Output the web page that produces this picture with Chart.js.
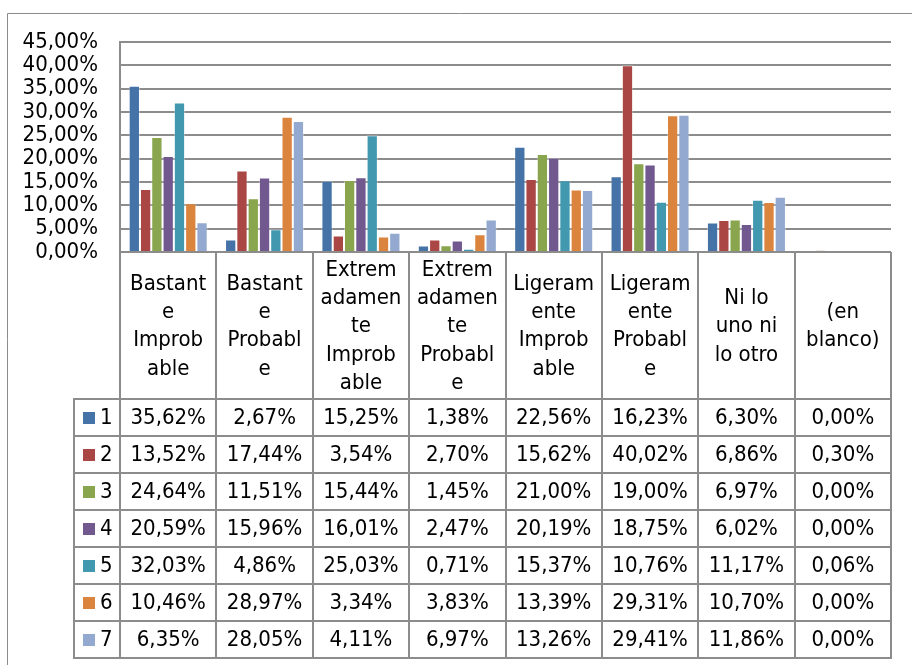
<!DOCTYPE html>
<html>
<head>
<meta charset="utf-8">
<script src="https://cdn.jsdelivr.net/npm/chart.js@4/dist/chart.umd.min.js"></script>
<style>
  html, body { margin: 0; padding: 0; background: #ffffff; }
  #wrap { width: 912px; height: 665px; position: relative; }
</style>
</head>
<body>
<div id="wrap"><canvas id="c" width="912" height="665"></canvas></div>
<script>
// Categories (answers) and their wrapped header lines in the data table
const categories = [
  "Bastante Improbable", "Bastante Probable", "Extremadamente Improbable",
  "Extremadamente Probable", "Ligeramente Improbable", "Ligeramente Probable",
  "Ni lo uno ni lo otro", "(en blanco)"
];
const headerLines = [
  ["Bastant", "e", "Improb", "able"],
  ["Bastant", "e", "Probabl", "e"],
  ["Extrem", "adamen", "te", "Improb", "able"],
  ["Extrem", "adamen", "te", "Probabl", "e"],
  ["Ligeram", "ente", "Improb", "able"],
  ["Ligeram", "ente", "Probabl", "e"],
  ["Ni lo", "uno ni", "lo otro"],
  ["(en", "blanco)"]
];

// Series names and values (percent)
const seriesNames = ["1", "2", "3", "4", "5", "6", "7"];
const serie1 = [35.62, 2.67, 15.25, 1.38, 22.56, 16.23, 6.30, 0.00];
const serie2 = [13.52, 17.44, 3.54, 2.70, 15.62, 40.02, 6.86, 0.30];
const serie3 = [24.64, 11.51, 15.44, 1.45, 21.00, 19.00, 6.97, 0.00];
const serie4 = [20.59, 15.96, 16.01, 2.47, 20.19, 18.75, 6.02, 0.00];
const serie5 = [32.03, 4.86, 25.03, 0.71, 15.37, 10.76, 11.17, 0.06];
const serie6 = [10.46, 28.97, 3.34, 3.83, 13.39, 29.31, 10.70, 0.00];
const serie7 = [6.35, 28.05, 4.11, 6.97, 13.26, 29.41, 11.86, 0.00];
const seriesValues = [serie1, serie2, serie3, serie4, serie5, serie6, serie7];

// Value axis ticks
const yMin = 0, yMax = 45, yStep = 5;

const seriesColors = ["#4572A7", "#AA4643", "#89A54E", "#71588F", "#4198AF", "#DB843D", "#93A9CF"];

const FONT = "'DejaVu Sans Condensed', 'DejaVu Sans', sans-serif";
const FONT_SIZE = 22;
const LINE_COLOR = "#8c8c8c";

const fmtPct = v => v.toFixed(2).replace(".", ",") + "%";

// Outer frame and white background
const framePlugin = {
  id: "frame",
  beforeDraw(chart) {
    const ctx = chart.ctx;
    ctx.save();
    ctx.fillStyle = "#ffffff";
    ctx.fillRect(0, 0, chart.width, chart.height);
    ctx.strokeStyle = "#8b8b8b";
    ctx.lineWidth = 1;
    ctx.beginPath();
    ctx.moveTo(7.5, chart.height + 2);
    ctx.lineTo(7.5, 13.5);
    ctx.lineTo(chart.width + 2, 13.5);
    ctx.stroke();
    ctx.restore();
  }
};

// Data table under the plot, aligned on the category scale
const tablePlugin = {
  id: "dataTable",
  afterDraw(chart) {
    const ctx = chart.ctx;
    const xs = chart.scales.x;
    const area = chart.chartArea;
    const n = categories.length;
    const colW = (area.right - area.left) / n;
    const top = area.bottom;
    const headerH = 147;
    const rowH = 37;
    const legendLeft = 74;
    const dataTop = top + headerH;
    const bottom = dataTop + rowH * seriesNames.length;

    ctx.save();
    ctx.strokeStyle = LINE_COLOR;
    ctx.lineWidth = 2;

    // vertical lines
    for (let i = 0; i <= n; i++) {
      const x = Math.round(area.left + i * colW);
      ctx.beginPath();
      ctx.moveTo(x, top);
      ctx.lineTo(x, bottom);
      ctx.stroke();
    }
    ctx.beginPath();
    ctx.moveTo(legendLeft, dataTop);
    ctx.lineTo(legendLeft, bottom);
    ctx.stroke();

    // horizontal lines
    ctx.beginPath();
    ctx.moveTo(area.left, top);
    ctx.lineTo(area.right, top);
    ctx.stroke();
    for (let r = 0; r <= seriesNames.length; r++) {
      const y = Math.round(dataTop + r * rowH);
      ctx.beginPath();
      ctx.moveTo(legendLeft - 1, y);
      ctx.lineTo(area.right + 1, y);
      ctx.stroke();
    }

    ctx.fillStyle = "#000000";
    ctx.font = FONT_SIZE + "px " + FONT;
    ctx.textAlign = "center";
    ctx.textBaseline = "middle";

    // header: category names
    const lineH = 28.3;
    const headMid = top + headerH / 2;
    for (let i = 0; i < n; i++) {
      const cx = xs.getPixelForValue(i);
      const lines = headerLines[i];
      const y0 = headMid - (lines.length - 1) * lineH / 2;
      lines.forEach((t, k) => ctx.fillText(t, cx, y0 + k * lineH + 1));
    }

    // rows: legend key + values
    for (let s = 0; s < seriesNames.length; s++) {
      const cy = dataTop + s * rowH + rowH / 2;
      ctx.fillStyle = seriesColors[s];
      ctx.fillRect(83, Math.round(cy - 6), 12, 12);
      ctx.fillStyle = "#000000";
      ctx.textAlign = "left";
      ctx.fillText(seriesNames[s], 100, cy + 1);
      ctx.textAlign = "center";
      for (let i = 0; i < n; i++) {
        ctx.fillText(fmtPct(seriesValues[s][i]), xs.getPixelForValue(i), cy + 1);
      }
    }
    ctx.restore();
  }
};

const datasets = seriesNames.map((name, s) => ({
  label: name,
  data: seriesValues[s],
  backgroundColor: seriesColors[s],
  borderColor: "rgba(255,255,255,0.35)",
  borderWidth: 1,
  categoryPercentage: 0.82,
  barPercentage: 1.0
}));

new Chart(document.getElementById("c"), {
  type: "bar",
  data: { labels: categories, datasets },
  options: {
    responsive: false,
    devicePixelRatio: 1,
    animation: false,
    layout: { padding: { left: 0, top: 42, right: 21, bottom: 413 } },
    plugins: {
      legend: { display: false },
      tooltip: { enabled: false },
      title: { display: false }
    },
    scales: {
      x: { display: false },
      y: {
        min: yMin,
        max: yMax,
        afterFit(scale) { scale.width = 120; },
        ticks: {
          stepSize: yStep,
          autoSkip: false,
          padding: 22,
          color: "#000000",
          font: { family: FONT, size: FONT_SIZE },
          callback: v => fmtPct(v)
        },
        grid: { color: LINE_COLOR, lineWidth: 2, drawTicks: false },
        border: { display: true, color: LINE_COLOR, width: 2 }
      }
    }
  },
  plugins: [framePlugin, tablePlugin]
});
</script>
</body>
</html>
